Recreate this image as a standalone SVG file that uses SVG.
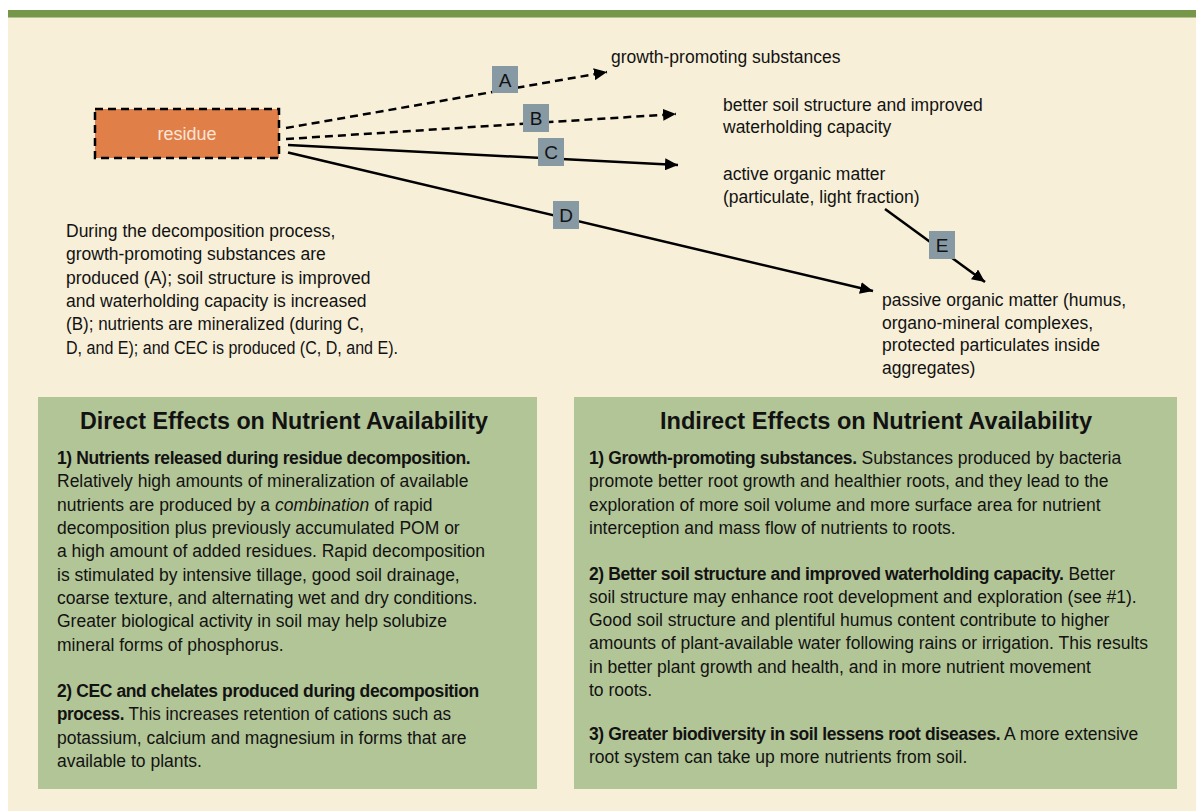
<svg xmlns="http://www.w3.org/2000/svg" width="1196" height="811" viewBox="0 0 1196 811">
  <style>
    text { font-family: "Liberation Sans", Arial, sans-serif; fill: #121212; }
    .body { font-size: 17.5px; }
    .title { font-size: 23px; font-weight: bold; text-anchor: middle; }
    .b { font-weight: bold; letter-spacing: -0.4px; }
    .lbl { font-size: 19px; text-anchor: middle; }
    .lblbox { fill: #8799a3; }
    .panel { fill: #b2c597; }
    .dash { stroke: #000; stroke-width: 2.5; fill: none; stroke-dasharray: 8 5; }
    .solid { stroke: #000; stroke-width: 2.5; fill: none; }
  </style>
  <defs>
    <marker id="arrow" markerUnits="userSpaceOnUse" markerWidth="14" markerHeight="12" refX="13" refY="6" orient="auto">
      <path d="M0,0 L13,6 L0,12 z" fill="#000"/>
    </marker>
  </defs>

  <!-- background -->
  <rect x="0" y="0" width="1196" height="811" fill="#ffffff"/>
  <rect x="8" y="17" width="1188" height="794" fill="#f7efd8"/>
  <rect x="8" y="10" width="1188" height="7.5" fill="#76964a"/>

  <!-- connectors -->
  <g id="connectors">
    <line class="dash" x1="286" y1="128" x2="607" y2="72" marker-end="url(#arrow)"/>
    <line class="dash" x1="286" y1="139" x2="676" y2="114" marker-end="url(#arrow)"/>
    <line class="solid" x1="288" y1="145" x2="678" y2="165" marker-end="url(#arrow)"/>
    <line class="solid" x1="288" y1="152.5" x2="873" y2="291" marker-end="url(#arrow)"/>
    <line class="solid" x1="885" y1="209" x2="985" y2="282" marker-end="url(#arrow)"/>
    <g id="label-A"><rect class="lblbox" x="492" y="66" width="26" height="27"/><text class="lbl" x="505" y="87">A</text></g>
    <g id="label-B"><rect class="lblbox" x="523" y="104" width="26" height="28"/><text class="lbl" x="536" y="125">B</text></g>
    <g id="label-C"><rect class="lblbox" x="538" y="138" width="26" height="28"/><text class="lbl" x="551" y="159">C</text></g>
    <g id="label-D"><rect class="lblbox" x="553" y="201" width="26" height="28"/><text class="lbl" x="566" y="222">D</text></g>
    <g id="label-E"><rect class="lblbox" x="929" y="231" width="26" height="28"/><text class="lbl" x="942" y="252">E</text></g>
  </g>

  <!-- residue node -->
  <g id="residue">
    <rect x="95" y="109" width="184" height="49" fill="#e07f48" stroke="#000" stroke-width="2.5" stroke-dasharray="8 5"/>
    <text x="187" y="140" text-anchor="middle" font-size="18" style="fill:#fce4d6">residue</text>
  </g>

  <!-- outcome nodes -->
  <g id="growth-promoting">
    <text class="body" x="611" y="63">growth-promoting substances</text>
  </g>
  <g id="soil-structure">
    <text class="body" x="723" y="111">better soil structure and improved</text>
    <text class="body" x="723" y="133">waterholding capacity</text>
  </g>
  <g id="active-om">
    <text class="body" x="723" y="180">active organic matter</text>
    <text class="body" x="723" y="203">(particulate, light fraction)</text>
  </g>
  <g id="passive-om">
    <text class="body" x="882" y="306">passive organic matter (humus,</text>
    <text class="body" x="882" y="328.5">organo-mineral complexes,</text>
    <text class="body" x="882" y="351">protected particulates inside</text>
    <text class="body" x="882" y="373.5">aggregates)</text>
  </g>

  <!-- explanation -->
  <g id="explanation">
    <text class="body" x="66" y="237">During the decomposition process,</text>
    <text class="body" x="66" y="260.3">growth-promoting substances are</text>
    <text class="body" x="66" y="283.6">produced (A); soil structure is improved</text>
    <text class="body" x="66" y="307">and waterholding capacity is increased</text>
    <text class="body" x="66" y="330.3" textLength="298" lengthAdjust="spacingAndGlyphs">(B); nutrients are mineralized (during C,</text>
    <text class="body" x="66" y="353.6" textLength="332" lengthAdjust="spacingAndGlyphs">D, and E); and CEC is produced (C, D, and E).</text>
  </g>

  <!-- direct effects panel -->
  <g id="direct-effects">
    <rect class="panel" x="38" y="397" width="499" height="392"/>
    <text class="title" x="284" y="429" textLength="408" lengthAdjust="spacingAndGlyphs">Direct Effects on Nutrient Availability</text>
    <text class="body b" x="57" y="464">1) Nutrients released during residue decomposition.</text>
    <text class="body" x="57" y="487.3">Relatively high amounts of mineralization of available</text>
    <text class="body" x="57" y="510.6">nutrients are produced by a <tspan font-style="italic">combination</tspan> of rapid</text>
    <text class="body" x="57" y="534">decomposition plus previously accumulated POM or</text>
    <text class="body" x="57" y="557.3">a high amount of added residues. Rapid decomposition</text>
    <text class="body" x="57" y="580.6">is stimulated by intensive tillage, good soil drainage,</text>
    <text class="body" x="57" y="604">coarse texture, and alternating wet and dry conditions.</text>
    <text class="body" x="57" y="627.3">Greater biological activity in soil may help solubize</text>
    <text class="body" x="57" y="650.6">mineral forms of phosphorus.</text>
    <text class="body b" x="57" y="697">2) CEC and chelates produced during decomposition</text>
    <text class="body" x="57" y="720.3" textLength="394" lengthAdjust="spacingAndGlyphs"><tspan class="b">process.</tspan> This increases retention of cations such as</text>
    <text class="body" x="57" y="743.6">potassium, calcium and magnesium in forms that are</text>
    <text class="body" x="57" y="767">available to plants.</text>
  </g>

  <!-- indirect effects panel -->
  <g id="indirect-effects">
    <rect class="panel" x="574" y="397" width="603" height="392"/>
    <text class="title" x="876" y="429" textLength="432" lengthAdjust="spacingAndGlyphs">Indirect Effects on Nutrient Availability</text>
    <text class="body" x="589" y="464"><tspan class="b">1) Growth-promoting substances.</tspan> Substances produced by bacteria</text>
    <text class="body" x="589" y="487.3">promote better root growth and healthier roots, and they lead to the</text>
    <text class="body" x="589" y="510.6">exploration of more soil volume and more surface area for nutrient</text>
    <text class="body" x="589" y="534">interception and mass flow of nutrients to roots.</text>
    <text class="body" x="589" y="579.5"><tspan class="b">2) Better soil structure and improved waterholding capacity.</tspan> Better</text>
    <text class="body" x="589" y="602.8">soil structure may enhance root development and exploration (see #1).</text>
    <text class="body" x="589" y="626.1">Good soil structure and plentiful humus content contribute to higher</text>
    <text class="body" x="589" y="649.4">amounts of plant-available water following rains or irrigation. This results</text>
    <text class="body" x="589" y="672.7">in better plant growth and health, and in more nutrient movement</text>
    <text class="body" x="589" y="696">to roots.</text>
    <text class="body" x="589" y="740"><tspan class="b">3) Greater biodiversity in soil lessens root diseases.</tspan> A more extensive</text>
    <text class="body" x="589" y="763.3">root system can take up more nutrients from soil.</text>
  </g>
</svg>
